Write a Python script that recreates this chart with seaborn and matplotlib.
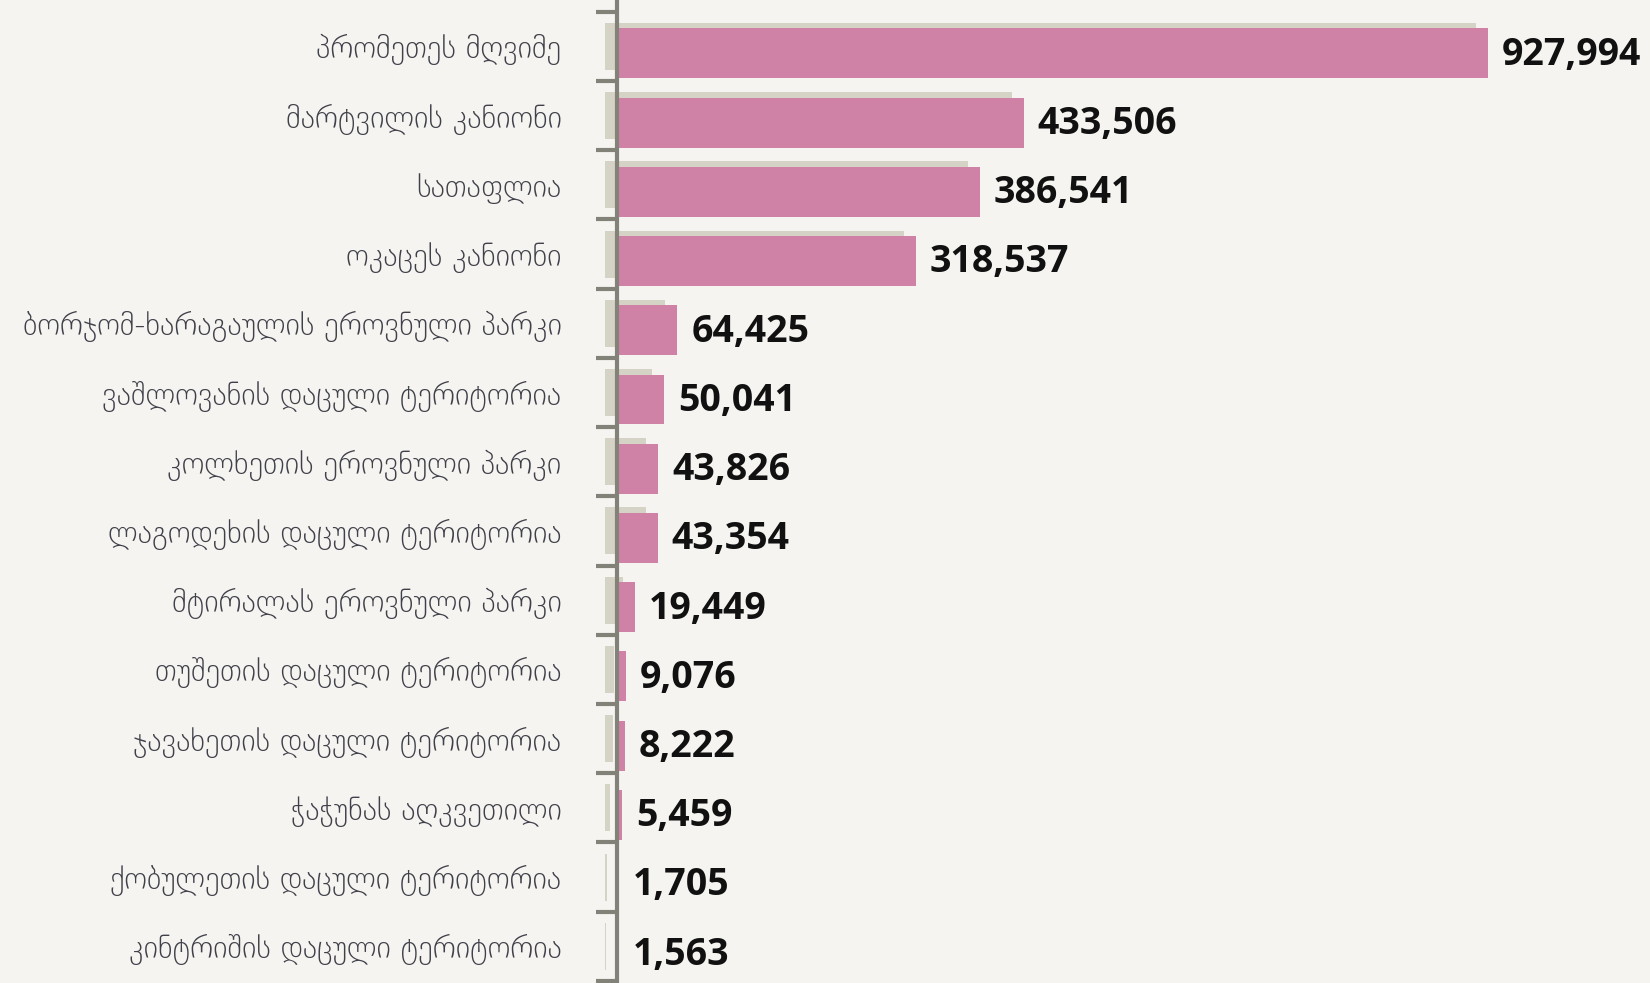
import matplotlib
matplotlib.use("Agg")
import matplotlib.pyplot as plt
import matplotlib.transforms as mtransforms
import numpy as np
import pandas as pd
import seaborn as sns

# ---------------------------------------------------------
# Data
# ---------------------------------------------------------
areas = [
    "პრომეთეს მღვიმე",
    "მარტვილის კანიონი",
    "სათაფლია",
    "ოკაცეს კანიონი",
    "ბორჯომ-ხარაგაულის ეროვნული პარკი",
    "ვაშლოვანის დაცული ტერიტორია",
    "კოლხეთის ეროვნული პარკი",
    "ლაგოდეხის დაცული ტერიტორია",
    "მტირალას ეროვნული პარკი",
    "თუშეთის დაცული ტერიტორია",
    "ჯავახეთის დაცული ტერიტორია",
    "ჭაჭუნას აღკვეთილი",
    "ქობულეთის დაცული ტერიტორია",
    "კინტრიშის დაცული ტერიტორია",
]
visitors = [927994, 433506, 386541, 318537, 64425, 50041, 43826,
            43354, 19449, 9076, 8222, 5459, 1705, 1563]

df = pd.DataFrame({"area": areas, "visitors": visitors})

# ---------------------------------------------------------
# Style
# ---------------------------------------------------------
BG = "#f5f4f0"
PINK = "#cf82a6"
SHADOW = "#d5d3c6"
AXIS = "#828279"
LABEL = "#40404a"

sns.set_theme(style="white")
plt.rcParams["font.family"] = ["DejaVu Sans"]

fig = plt.figure(figsize=(16.5, 9.83), dpi=100, facecolor=BG)
ax = fig.add_axes([617 / 1650, 0.0, 1 - 617 / 1650, 1.0])
ax.set_facecolor(BG)
n = len(areas)

# shadow bars (drawn first, nudged to the left)
sns.barplot(data=df, x="visitors", y="area", orient="h", color=SHADOW,
            width=0.68, ax=ax, saturation=1)
shadow_shift = mtransforms.ScaledTranslation(-12 / 100, 0, fig.dpi_scale_trans)
for p in ax.patches[:n]:
    p.set_transform(ax.transData + shadow_shift)
    p.set_clip_on(False)
    p.set_linewidth(0)

# main bars, nudged down a little over the shadow
sns.barplot(data=df, x="visitors", y="area", orient="h", color=PINK,
            width=0.72, ax=ax, saturation=1)
bar_shift = mtransforms.ScaledTranslation(0, -7 / 100, fig.dpi_scale_trans)
for p in ax.patches[n:]:
    p.set_transform(ax.transData + bar_shift)
    p.set_clip_on(False)
    p.set_linewidth(0)

# value labels
for i, v in enumerate(visitors):
    ax.annotate(f"{v:,}", xy=(v, i), xytext=(10, -6),
                textcoords="offset points", ha="left", va="center",
                fontsize=27, fontweight="bold", family="Open Sans",
                color="#111111", annotation_clip=False)

ax.set_xlim(0, 927994 * 1033 / 871)
ax.set_ylim(n - 0.47, -0.67)

ax.set_xlabel("")
ax.set_ylabel("")
ax.set_xticks([])

ax.set_yticks(np.arange(n))
ax.set_yticklabels(areas, fontsize=22, color=LABEL, fontweight="light")
ax.set_yticks(np.arange(n + 1) - 0.5, minor=True)
ax.tick_params(axis="y", which="major", length=0, pad=40)
ax.tick_params(axis="y", which="minor", length=15, width=3, color=AXIS,
               left=True, direction="out")

for s in ["top", "right", "bottom"]:
    ax.spines[s].set_visible(False)
ax.spines["left"].set_color(AXIS)
ax.spines["left"].set_linewidth(3)
ax.spines["left"].set_zorder(5)

fig.savefig("out.png", dpi=100, facecolor=BG)
